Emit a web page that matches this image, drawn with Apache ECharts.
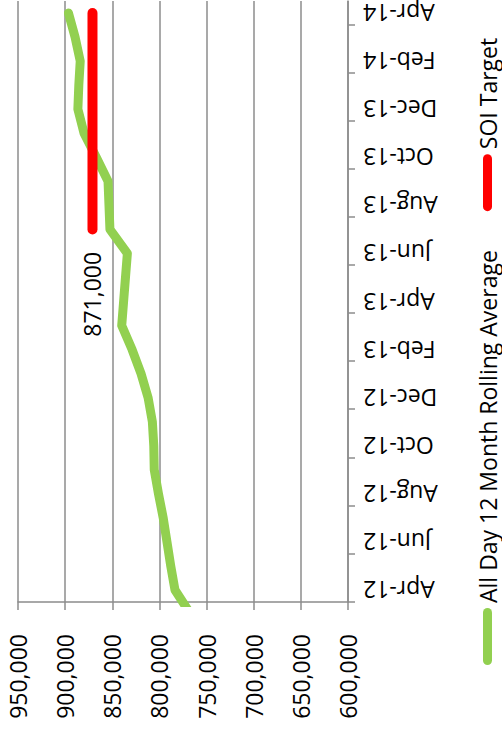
<!DOCTYPE html>
<html>
<head>
<meta charset="utf-8">
<script src="https://cdn.jsdelivr.net/npm/echarts@6/dist/echarts.min.js"></script>
<style>
  html, body { margin: 0; padding: 0; background: #fff; }
  #wrap { position: relative; width: 502px; height: 732px; overflow: hidden; background: #fff; }
  #c { position: absolute; left: 0; top: 0; width: 732px; height: 502px;
       transform-origin: 0 0; transform: translateY(732px) rotate(-90deg); }
</style>
</head>
<body>
<div id="wrap"><div id="c"></div></div>
<script>
// Months (first one, Mar-12, lies before the axis start and is clipped, as in the reference)
const months = ['Mar-12','Apr-12','May-12','Jun-12','Jul-12','Aug-12','Sep-12','Oct-12','Nov-12','Dec-12',
                'Jan-13','Feb-13','Mar-13','Apr-13','May-13','Jun-13','Jul-13','Aug-13','Sep-13','Oct-13',
                'Nov-13','Dec-13','Jan-14','Feb-14','Mar-14','Apr-14'];
const rollingAvg = [767000, 783500, 788000, 792000, 796000, 801000, 805500, 806000, 807500, 812000,
                    819500, 829000, 840000, 838000, 836000, 834000, 852500, 853500, 854500, 867000,
                    880000, 886500, 885500, 884000, 889500, 896500];
const soiTarget = [null, null, null, null, null, null, null, null, null, null,
                   null, null, null, null, null, null, 871000, 871000, 871000, 871000,
                   871000, 871000, 871000, 871000, 871000, 871000];
const monthTickLabels = ['Apr-12','Jun-12','Aug-12','Oct-12','Dec-12','Feb-13','Apr-13','Jun-13',
                         'Aug-13','Oct-13','Dec-13','Feb-14','Apr-14'];
const valueTicks = [600000, 650000, 700000, 750000, 800000, 850000, 900000, 950000];
const seriesNames = ['All Day 12 Month Rolling Average', 'SOI Target'];

const FONT = '"Open Sans", "Noto Sans", sans-serif';
const fmt = v => Number(v).toLocaleString('en-US');
// month slot position: each month occupies one unit band; Apr-12 band = [0,1]
const pos = i => i - 0.5;
const labelPositions = monthTickLabels.map(m => pos(months.indexOf(m)));
const tickPositions = monthTickLabels.map(m => pos(months.indexOf(m)) - 0.5);

const greenData = rollingAvg.map((v, i) => [pos(i), v]);
let firstTarget = true;
const redData = soiTarget.map((v, i) => {
  if (v === null) return [pos(i), null];
  if (firstTarget) { firstTarget = false; return { value: [pos(i), v], label: { show: true } }; }
  return [pos(i), v];
});

const pill = 'path://M4.5,0 L52.5,0 A4.5,4.5 0 0 1 52.5,9 L4.5,9 A4.5,4.5 0 0 1 4.5,0 Z';
const gray = '#8c8c8c';

const chart = echarts.init(document.getElementById('c'), null, { renderer: 'svg' });
chart.setOption({
  animation: false,
  textStyle: { fontFamily: FONT },
  grid: { left: 130, right: 1, top: 18, bottom: 154, containLabel: false },
  legend: {
    left: 62, top: 471, itemWidth: 57, itemHeight: 9, itemGap: 39,
    textStyle: { fontFamily: FONT, fontSize: 23, color: '#000' },
    data: [ { name: seriesNames[0], icon: pill }, { name: seriesNames[1], icon: pill } ]
  },
  xAxis: {
    type: 'value', min: 0, max: months.length - 1,
    axisLine: { show: true, lineStyle: { color: gray, width: 1.5 } },
    axisTick: { show: true, customValues: tickPositions, length: 7, lineStyle: { color: gray, width: 1.5 } },
    axisLabel: {
      customValues: labelPositions, rotate: 90, margin: 15,
      fontFamily: FONT, fontSize: 23, color: '#000',
      formatter: v => months[Math.round(v + 0.5)]
    },
    splitLine: { show: false }
  },
  yAxis: {
    type: 'value', min: valueTicks[0], max: valueTicks[valueTicks.length - 1], interval: 50000,
    axisLine: { show: true, lineStyle: { color: gray, width: 1.5 } },
    axisTick: { show: true, length: 8, lineStyle: { color: gray, width: 1.5 } },
    axisLabel: { margin: 32, fontFamily: FONT, fontSize: 23, color: '#000', formatter: v => fmt(v) },
    splitLine: { show: true, lineStyle: { color: gray, width: 1.5 } }
  },
  series: [
    {
      name: seriesNames[0], type: 'line', data: greenData, symbol: 'none', clip: true,
      color: '#92D050',
      lineStyle: { color: '#92D050', width: 9, cap: 'round', join: 'round' }
    },
    {
      name: seriesNames[1], type: 'line', data: redData, symbol: 'circle', symbolSize: 1,
      color: '#FF0000', connectNulls: false,
      itemStyle: { color: '#FF0000' },
      lineStyle: { color: '#FF0000', width: 10, cap: 'round', join: 'round' },
      label: { show: false, position: 'left', distance: 22, fontFamily: FONT, fontSize: 23, color: '#000',
               formatter: p => fmt(p.value[1]) }
    }
  ]
});
</script>
</body>
</html>
